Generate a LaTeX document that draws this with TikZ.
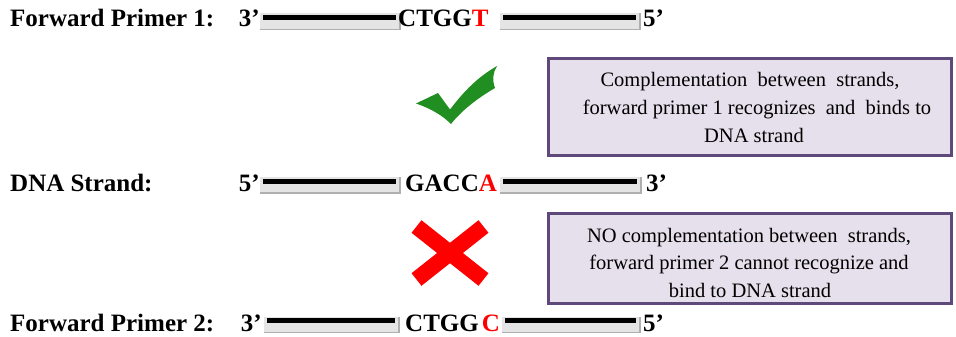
\documentclass[tikz,border=0pt]{standalone}
\usepackage{fontspec}
\setmainfont{Liberation Serif}

\definecolor{boxfill}{RGB}{229,224,236}
\definecolor{boxline}{RGB}{95,73,122}
\definecolor{okgreen}{RGB}{32,142,32}
\definecolor{seqred}{RGB}{255,0,0}
\definecolor{shadowgray}{RGB}{228,228,228}
\definecolor{shadowedge}{RGB}{175,175,175}

% one strand segment: embossed grey backing with a black bar on top
% #1 = left x, #2 = right x, #3 = bar centre y
\newcommand\strandbar[3]{%
  \fill[shadowgray] (#1-3,#3-4) rectangle (#2+4,#3+12);
  \draw[shadowedge, line width=1.5] (#1-3,#3+12) -- (#2+4,#3+12) -- (#2+4,#3-4);
  \draw[black, line width=5] (#1,#3) -- (#2,#3);%
}

\tikzset{
  rowlabel/.style={anchor=base west, inner sep=0pt, font=\fontsize{25}{30}\selectfont\bfseries},
  endmark/.style={anchor=base east, inner sep=0pt, font=\fontsize{25}{30}\selectfont\bfseries},
  endmarkl/.style={anchor=base west, inner sep=0pt, font=\fontsize{25}{30}\selectfont\bfseries},
  seq/.style={anchor=base west, inner sep=0pt, font=\fontsize{25}{30}\selectfont\bfseries},
  notebox/.style={draw=boxline, line width=3pt, fill=boxfill, inner sep=0pt},
  note/.style={anchor=base, inner sep=0pt, font=\fontsize{20.5}{27}\selectfont},
}

\begin{document}
\begin{tikzpicture}[x=1pt, y=-1pt]
  \useasboundingbox (0,0) rectangle (956,337);
  \fill[white] (0,0) rectangle (956,337);

  % ---- Forward primer 1 ----
  \node[rowlabel] (p1lab) at (10,27) {Forward Primer 1:};
  \node[endmark] (p1left) at (260,27) {3’};
  \strandbar{263}{396}{17.5}
  \node[seq] (p1seq) at (398,27) {CTGG\textcolor{seqred}{T}};
  \strandbar{503}{636}{17.5}
  \node[endmarkl] (p1right) at (643,27) {5’};

  % ---- DNA strand ----
  \node[rowlabel] (dnalab) at (10,191) {DNA Strand:};
  \node[endmark] (dnaleft) at (260,191) {5’};
  \strandbar{263}{396}{181}
  \node[seq] (dnaseq) at (405,191) {GACC\textcolor{seqred}{A}};
  \strandbar{503}{637}{181}
  \node[endmarkl] (dnaright) at (646,191) {3’};

  % ---- Forward primer 2 ----
  \node[rowlabel] (p2lab) at (10,331) {Forward Primer 2:};
  \node[endmark] (p2left) at (262,331) {3’};
  \strandbar{267}{395}{320.5}
  \node[seq] (p2seq) at (405,331) {CTGG\hspace{3pt}\textcolor{seqred}{C}};
  \strandbar{505}{636}{320.5}
  \node[endmarkl] (p2right) at (643,331) {5’};

  % ---- check mark: primer 1 binds ----
  \fill[okgreen] (416,103.5) -- (438,93) -- (450,109.5)
    .. controls (465,90) and (478,77) .. (497,66)
    .. controls (493,72) and (492,80) .. (495,88)
    .. controls (478,98) and (462,110) .. (451,124)
    .. controls (443,116) and (432,109) .. (416,103.5) -- cycle;

  % ---- cross: primer 2 does not bind ----
  \draw[seqred, line width=16] (416.5,226.5) -- (483.5,279.5);
  \draw[seqred, line width=16] (483.5,226.5) -- (416.5,279.5);

  % ---- explanation boxes ----
  \node[notebox, minimum width=403pt, minimum height=97pt] (note1) at (750,107) {};
  \node[note] (note1a) at (750,87) {Complementation\ \ between\ \ strands,};
  \node[note] (note1b) at (757,114.5) {forward primer 1 recognizes\ \ and\ \ binds to};
  \node[note] (note1c) at (754,142) {DNA strand};

  \node[notebox, minimum width=403pt, minimum height=90pt] (note2) at (750,258.5) {};
  \node[note] (note2a) at (749,242) {NO complementation between\ \ strands,};
  \node[note] (note2b) at (749,269.5) {forward primer 2 cannot recognize and};
  \node[note] (note2c) at (750,297) {bind to DNA strand};
\end{tikzpicture}
\end{document}
